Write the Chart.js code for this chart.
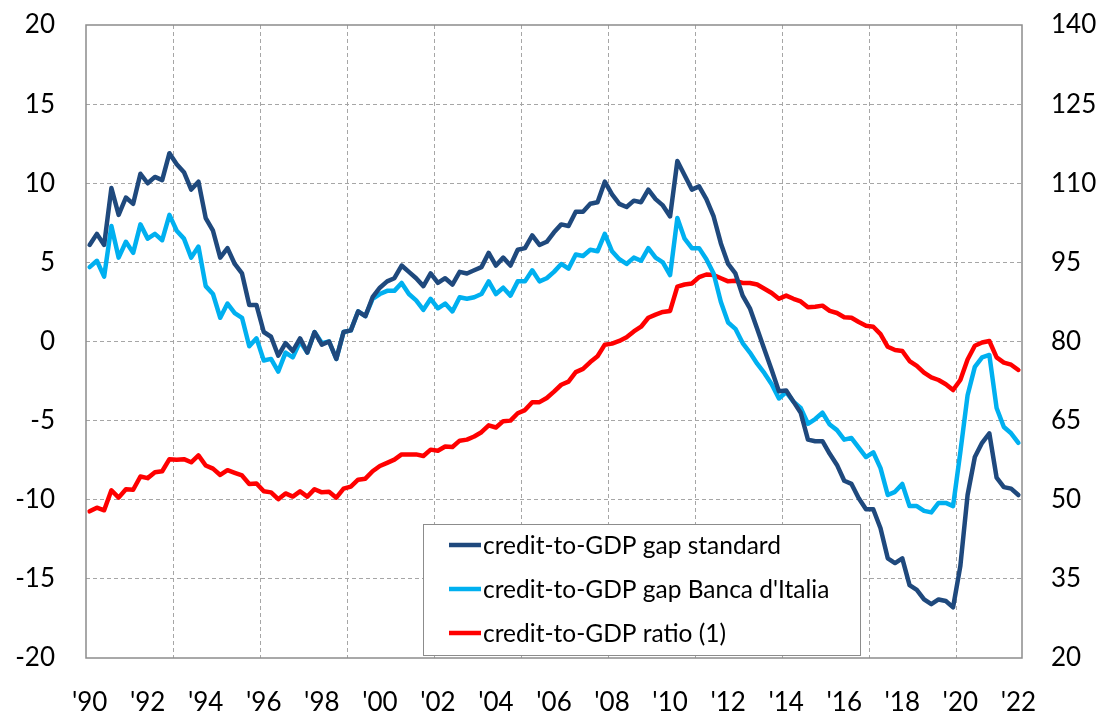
<!DOCTYPE html>
<html>
<head>
<meta charset="utf-8">
<script src="https://cdn.jsdelivr.net/npm/chart.js@4/dist/chart.umd.min.js"></script>
<style>
  html, body { margin: 0; padding: 0; background: #fff; }
  #wrap { width: 1110px; height: 715px; position: relative; }
</style>
</head>
<body>
<div id="wrap"><canvas id="grafico" width="1110" height="715"></canvas></div>
<script>
// quarterly data, 1990 Q1 .. 2022 Q1
const annoIniziale = 1990;
const numTrimestri = 129;

const xTickLabels = ["'90", "'92", "'94", "'96", "'98", "'00", "'02", "'04", "'06", "'08",
                     "'10", "'12", "'14", "'16", "'18", "'20", "'22"];
const yTicksSx = [-20, -15, -10, -5, 0, 5, 10, 15, 20];
const yTicksDx = [20, 35, 50, 65, 80, 95, 110, 125, 140];

const gapStandard = [
  6.1, 6.8, 6.1, 9.7, 8.0, 9.1, 8.7, 10.6, 10.0, 10.4, 10.2, 11.9, 11.2, 10.7, 9.6, 10.1,
  7.8, 7.0, 5.3, 5.9, 4.9, 4.3, 2.3, 2.3, 0.6, 0.3, -0.9, -0.1, -0.6, 0.2, -0.7, 0.6,
  -0.2, 0.0, -1.1, 0.6, 0.7, 1.9, 1.6, 2.8, 3.4, 3.8, 4.0, 4.8, 4.4, 4.0, 3.5, 4.3,
  3.7, 4.0, 3.6, 4.4, 4.3, 4.5, 4.7, 5.6, 4.8, 5.3, 4.8, 5.8, 5.9, 6.7, 6.1, 6.3,
  6.9, 7.4, 7.3, 8.2, 8.2, 8.7, 8.8, 10.1, 9.3, 8.7, 8.5, 8.9, 8.8, 9.6, 9.0, 8.6,
  7.9, 11.4, 10.5, 9.6, 9.8, 9.0, 7.9, 6.2, 4.9, 4.3, 2.9, 2.1, 0.8, -0.5, -1.8, -3.15,
  -3.1, -3.8, -4.5, -6.2, -6.3, -6.3, -7.1, -7.8, -8.8, -9.0, -9.9, -10.6, -10.6, -11.8, -13.7, -14.0,
  -13.7, -15.4, -15.7, -16.3, -16.6, -16.3, -16.4, -16.8, -14.2, -9.7, -7.3, -6.4, -5.8, -8.6, -9.2, -9.3,
  -9.7
];

const gapBancaItalia = [
  4.7, 5.1, 4.1, 7.3, 5.3, 6.3, 5.6, 7.4, 6.5, 6.8, 6.4, 8.0, 7.0, 6.5, 5.3, 6.0,
  3.5, 3.0, 1.5, 2.4, 1.8, 1.5, -0.3, 0.2, -1.2, -1.1, -1.9, -0.7, -1.0, 0.0, -0.7, 0.6,
  -0.1, 0.0, -1.1, 0.6, 0.7, 1.9, 1.6, 2.7, 3.0, 3.2, 3.2, 3.7, 3.0, 2.6, 2.0, 2.7,
  2.1, 2.4, 1.9, 2.8, 2.7, 2.8, 3.0, 3.8, 3.0, 3.4, 2.9, 3.8, 3.8, 4.5, 3.8, 4.0,
  4.4, 4.9, 4.6, 5.5, 5.4, 5.8, 5.7, 6.8, 5.7, 5.2, 4.9, 5.3, 5.1, 5.9, 5.3, 5.0,
  4.2, 7.8, 6.5, 5.9, 5.9, 5.2, 4.3, 2.5, 1.2, 0.8, -0.1, -0.7, -1.4, -2.0, -2.7, -3.6,
  -3.2, -3.8, -4.2, -5.2, -4.9, -4.5, -5.25, -5.6, -6.2, -6.1, -6.7, -7.3, -7.0, -8.0, -9.7, -9.5,
  -9.0, -10.4, -10.4, -10.7, -10.8, -10.2, -10.2, -10.4, -7.0, -3.4, -1.6, -1.0, -0.85, -4.2, -5.4, -5.8,
  -6.4
];

const rapportoCreditoPil = [
  47.8, 48.5, 48.0, 51.8, 50.4, 52.0, 51.9, 54.4, 54.1, 55.2, 55.4, 57.7, 57.6, 57.7, 57.1, 58.4,
  56.5, 55.9, 54.7, 55.6, 55.1, 54.6, 53.0, 53.1, 51.6, 51.4, 50.1, 51.2, 50.6, 51.6, 50.6, 52.0,
  51.4, 51.5, 50.4, 52.1, 52.5, 53.8, 54.0, 55.4, 56.4, 57.0, 57.6, 58.6, 58.6, 58.6, 58.3, 59.5,
  59.3, 60.1, 60.0, 61.2, 61.4, 62.0, 62.8, 64.1, 63.7, 64.9, 65.0, 66.4, 67.0, 68.5, 68.5, 69.3,
  70.5, 71.8, 72.4, 74.2, 74.8, 76.1, 77.2, 79.4, 79.6, 80.1, 80.8, 81.9, 82.8, 84.5, 85.1, 85.6,
  85.8, 90.4, 90.8, 91.0, 92.2, 92.7, 92.6, 92.0, 91.4, 91.5, 91.1, 91.1, 90.8, 90.0, 89.2, 88.1,
  88.7, 88.1, 87.6, 86.5, 86.6, 86.8, 85.8, 85.4, 84.6, 84.5, 83.7, 83.0, 82.8, 81.4, 79.0, 78.4,
  78.2, 76.3, 75.4, 74.1, 73.2, 72.7, 71.9, 70.8, 72.7, 76.6, 79.2, 79.8, 80.1, 77.0, 76.0, 75.6,
  74.6
];

const trimestri = [];
for (let i = 0; i < numTrimestri; i++) {
    trimestri.push((annoIniziale + Math.floor(i / 4)) + " Q" + (i % 4 + 1));
}

const coloreGriglia = "#a6a6a6";
const coloreBordo = "#8c8c8c";

Chart.defaults.font.family = "Lato, 'Open Sans', sans-serif";
Chart.defaults.color = "#000";

// cornice dell'area del grafico
const cornice = {
    id: "cornice",
    beforeDatasetsDraw(chart) {
        const {ctx, chartArea: a} = chart;
        ctx.save();
        ctx.strokeStyle = coloreBordo;
        ctx.lineWidth = 1.5;
        ctx.strokeRect(a.left, a.top, a.right - a.left, a.bottom - a.top);
        ctx.restore();
    }
};

// legenda dentro l'area del grafico
const legendaInterna = {
    id: "legendaInterna",
    afterDatasetsDraw(chart) {
        const ctx = chart.ctx;
        const box = {x: 423, y: 524, w: 437, h: 131};
        ctx.save();
        ctx.fillStyle = "#fff";
        ctx.fillRect(box.x, box.y, box.w, box.h);
        ctx.strokeStyle = coloreBordo;
        ctx.lineWidth = 1;
        ctx.strokeRect(box.x + 0.5, box.y + 0.5, box.w, box.h);
        ctx.font = "24.5px Lato";
        ctx.textBaseline = "middle";
        ctx.fillStyle = "#000";
        chart.data.datasets.forEach((ds, i) => {
            const y = box.y + 21 + i * 44;
            ctx.strokeStyle = ds.borderColor;
            ctx.lineWidth = 4.5;
            ctx.beginPath();
            ctx.moveTo(box.x + 26, y);
            ctx.lineTo(box.x + 58, y);
            ctx.stroke();
            ctx.fillText(ds.label, box.x + 60, y + 1);
        });
        ctx.restore();
    }
};

// larghezza fissa degli assi verticali, senza margine extra sopra e sotto
function fissaAsseY(larghezza) {
    return s => {
        s.width = larghezza;
        s.paddingTop = 0;
        s.paddingBottom = 0;
    };
}

const ctx = document.getElementById("grafico").getContext("2d");

new Chart(ctx, {
    type: "line",
    data: {
        labels: trimestri,
        datasets: [
            {
                label: "credit-to-GDP gap standard",
                data: gapStandard,
                borderColor: "#1f497d",
                yAxisID: "y"
            },
            {
                label: "credit-to-GDP gap Banca d'Italia",
                data: gapBancaItalia,
                borderColor: "#00b0f0",
                yAxisID: "y"
            },
            {
                label: "credit-to-GDP ratio (1)",
                data: rapportoCreditoPil,
                borderColor: "#ff0000",
                yAxisID: "y1"
            }
        ]
    },
    options: {
        responsive: false,
        animation: false,
        layout: { padding: { top: 25, left: 0, right: 0, bottom: 0 } },
        elements: {
            line: { borderWidth: 4.5, tension: 0, borderJoinStyle: "round", borderCapStyle: "round" },
            point: { radius: 0 }
        },
        plugins: {
            legend: { display: false },
            tooltip: { enabled: false }
        },
        scales: {
            x: {
                type: "category",
                offset: true,
                grid: {
                    offset: true,
                    drawTicks: false,
                    color: c => (c.index % 12 === 0 && c.index > 0 && c.index < numTrimestri) ? coloreGriglia : "rgba(0,0,0,0)",
                    lineWidth: 1
                },
                border: { display: false, dash: [4, 3] },
                ticks: {
                    autoSkip: false,
                    maxRotation: 0,
                    padding: 29,
                    font: { size: 26 },
                    callback: (v, i) => (i % 8 === 0) ? xTickLabels[i / 8] : ""
                },
                afterFit: s => { s.height = 57; s.paddingLeft = 0; s.paddingRight = 0; }
            },
            y: {
                position: "left",
                min: -20,
                max: 20,
                afterBuildTicks: s => { s.ticks = yTicksSx.map(v => ({value: v})); },
                grid: {
                    drawTicks: false,
                    color: c => (c.tick && Math.abs(c.tick.value) === 20) ? "rgba(0,0,0,0)" : coloreGriglia
                },
                border: { display: false, dash: [4, 3] },
                ticks: { padding: 31, font: { size: 26 } },
                afterFit: fissaAsseY(86)
            },
            y1: {
                position: "right",
                min: 20,
                max: 140,
                afterBuildTicks: s => { s.ticks = yTicksDx.map(v => ({value: v})); },
                grid: { display: false, drawTicks: false },
                border: { display: false },
                ticks: { padding: 29, font: { size: 26 } },
                afterFit: fissaAsseY(88)
            }
        }
    },
    plugins: [cornice, legendaInterna]
});
</script>
</body>
</html>
